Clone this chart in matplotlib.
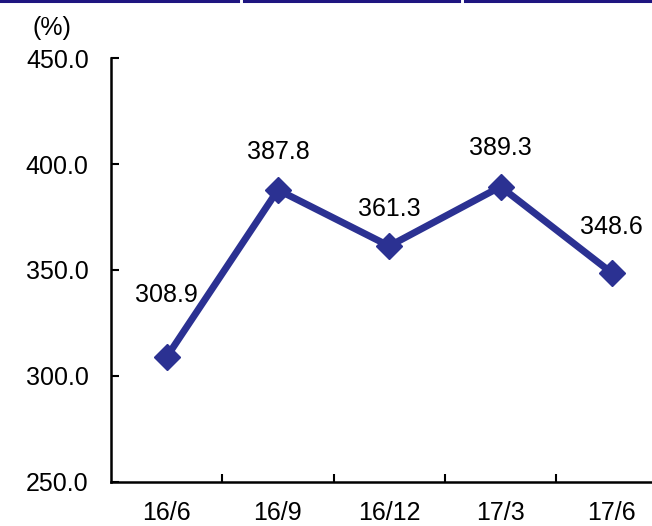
import matplotlib
matplotlib.use("Agg")
import matplotlib.pyplot as plt
from matplotlib.lines import Line2D
from matplotlib.ticker import FixedLocator

plt.rcParams['font.family'] = ['Liberation Sans', 'DejaVu Sans']

# data
periods = ['16/6', '16/9', '16/12', '17/3', '17/6']
ratio = [308.9, 387.8, 361.3, 389.3, 348.6]
y_ticks = [250, 300, 350, 400, 450]

# label offsets above the markers (points)
label_dy = [45, 27, 27, 28, 33]

navy = '#2B3192'

fig = plt.figure(figsize=(6.52, 5.26), dpi=100)
ax = fig.add_axes([0.1702, 0.0837, 0.8536, 0.806])

x = list(range(len(periods)))
ax.plot(x, ratio, color=navy, linewidth=5, marker='D', markersize=13,
        markerfacecolor=navy, markeredgecolor=navy, solid_joinstyle='miter',
        clip_on=False)

for xi, v, dy in zip(x, ratio, label_dy):
    ax.annotate(f'{v:.1f}', (xi, v), xytext=(0, dy), textcoords='offset points',
                ha='center', va='center', fontsize=18, color='black')

ax.set_xlim(-0.5, len(periods) - 0.5)
ax.set_ylim(250, 450)
ax.set_xticks(x)
ax.set_xticklabels(periods)
ax.xaxis.set_minor_locator(FixedLocator([0.5, 1.5, 2.5, 3.5]))
ax.set_yticks(y_ticks)
ax.set_yticklabels([f'{t:.1f}' for t in y_ticks])

ax.tick_params(axis='x', which='major', length=0, pad=14, labelsize=18)
ax.tick_params(axis='x', which='minor', direction='in', length=6, width=1.5)
ax.tick_params(axis='y', direction='in', length=6, width=1.5, pad=16, labelsize=18)

for s in ['top', 'right']:
    ax.spines[s].set_visible(False)
for s in ['left', 'bottom']:
    ax.spines[s].set_linewidth(1.8)

fig.text(52 / 652, 1 - 28 / 526, '(%)', ha='center', va='center', fontsize=18)

# dark band at the top edge
band = '#1E1580'
y_band = 1 - 1.2 / 526
for x0, x1 in [(0, 238), (244, 459), (465, 652)]:
    fig.add_artist(Line2D([x0 / 652, x1 / 652], [y_band, y_band],
                          color=band, linewidth=2.2, transform=fig.transFigure))

fig.savefig('out.png', dpi=100)
